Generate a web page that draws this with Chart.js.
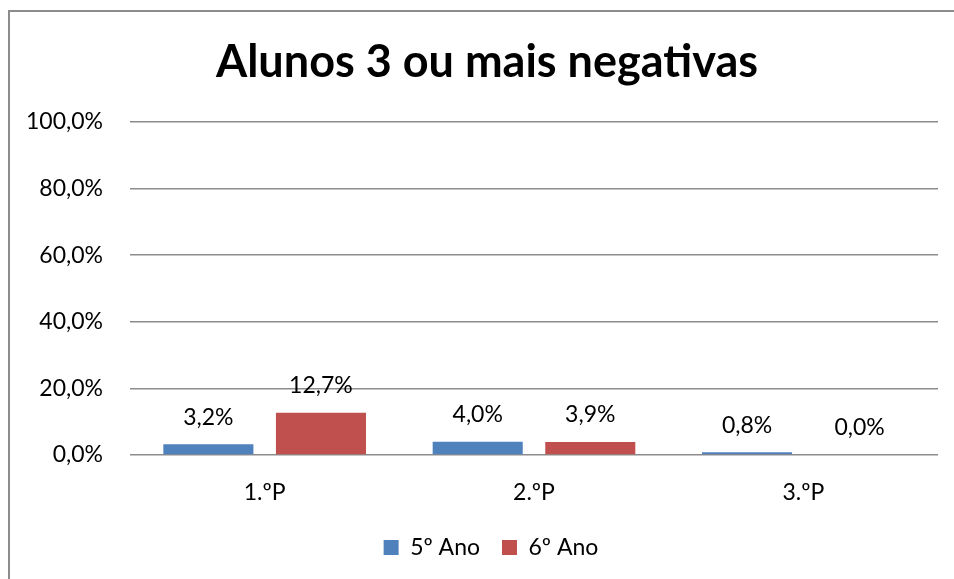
<!DOCTYPE html>
<html>
<head>
<meta charset="utf-8">
<script src="https://cdn.jsdelivr.net/npm/chart.js@4/dist/chart.umd.min.js"></script>
<style>
  html, body { margin: 0; padding: 0; background: #fff; overflow: hidden; }
  #moldura { position: absolute; left: 8px; top: 10px; width: 1000px; height: 700px;
             border-left: 2px solid #8c8c8c; border-top: 2px solid #8c8c8c; }
  #caixa { position: absolute; left: 0; top: 0; width: 954px; height: 579px; }
</style>
</head>
<body>
<div id="moldura"></div>
<div id="caixa"><canvas id="graficoNegativas"></canvas></div>
<script>
const periodos = ['1.ºP', '2.ºP', '3.ºP'];
const ano5 = [3.2, 4.0, 0.8];
const ano6 = [12.7, 3.9, 0.0];
const nomesSeries = ['5º Ano', '6º Ano'];
const coresSeries = ['#4F81BD', '#C0504D'];

const fonte = "Lato, 'Open Sans', sans-serif";
const fmtPct = v => v.toFixed(1).replace('.', ',') + '%';

// rótulos por cima das barras
const rotulosBarras = {
  id: 'rotulosBarras',
  afterDatasetsDraw(chart) {
    const ctx = chart.ctx;
    ctx.save();
    ctx.font = '23px ' + fonte;
    ctx.fillStyle = '#000';
    ctx.textAlign = 'center';
    ctx.textBaseline = 'middle';
    chart.data.datasets.forEach((ds, i) => {
      chart.getDatasetMeta(i).data.forEach((bar, j) => {
        ctx.fillText(fmtPct(ds.data[j]), bar.x, bar.y - 27);
      });
    });
    ctx.restore();
  }
};

// o gráfico original está cortado à direita: centrar título e legenda como lá
const ajusteCentro = {
  id: 'ajusteCentro',
  afterLayout(chart) {
    chart.titleBlock.left += 7; chart.titleBlock.right += 7;
    chart.legend.left += 11; chart.legend.right += 11;
  }
};

const ctx = document.getElementById('graficoNegativas').getContext('2d');
new Chart(ctx, {
  type: 'bar',
  data: {
    labels: periodos,
    datasets: [
      { label: nomesSeries[0], data: ano5, backgroundColor: coresSeries[0] },
      { label: nomesSeries[1], data: ano6, backgroundColor: coresSeries[1] }
    ]
  },
  plugins: [rotulosBarras, ajusteCentro],
  options: {
    responsive: true, maintainAspectRatio: false, animation: false,
    categoryPercentage: 0.836, barPercentage: 0.8,
    layout: { padding: { left: 22, right: 16, top: 0, bottom: 10 } },
    plugins: {
      title: { display: true, text: 'Alunos 3 ou mais negativas', color: '#000',
               font: { family: fonte, size: 45, weight: 'bold' }, padding: { top: 35, bottom: 33 } },
      legend: { position: 'bottom',
                labels: { color: '#000', font: { family: fonte, size: 23 }, boxWidth: 15, boxHeight: 15, padding: 22 } },
      tooltip: { enabled: false }
    },
    scales: {
      x: {
        grid: { display: false, drawTicks: false },
        border: { display: false },
        ticks: { color: '#000', font: { family: fonte, size: 23 }, padding: 24 },
        afterFit: s => { s.height = 59; }
      },
      y: {
        min: 0, max: 100,
        grid: { color: '#8c8c8c', lineWidth: 1.5, drawTicks: false },
        border: { display: false },
        ticks: { stepSize: 20, color: '#000', font: { family: fonte, size: 23 }, padding: 27,
                 callback: v => fmtPct(v) },
        afterFit: s => { s.width = 108; }
      }
    }
  }
});
</script>
</body>
</html>
